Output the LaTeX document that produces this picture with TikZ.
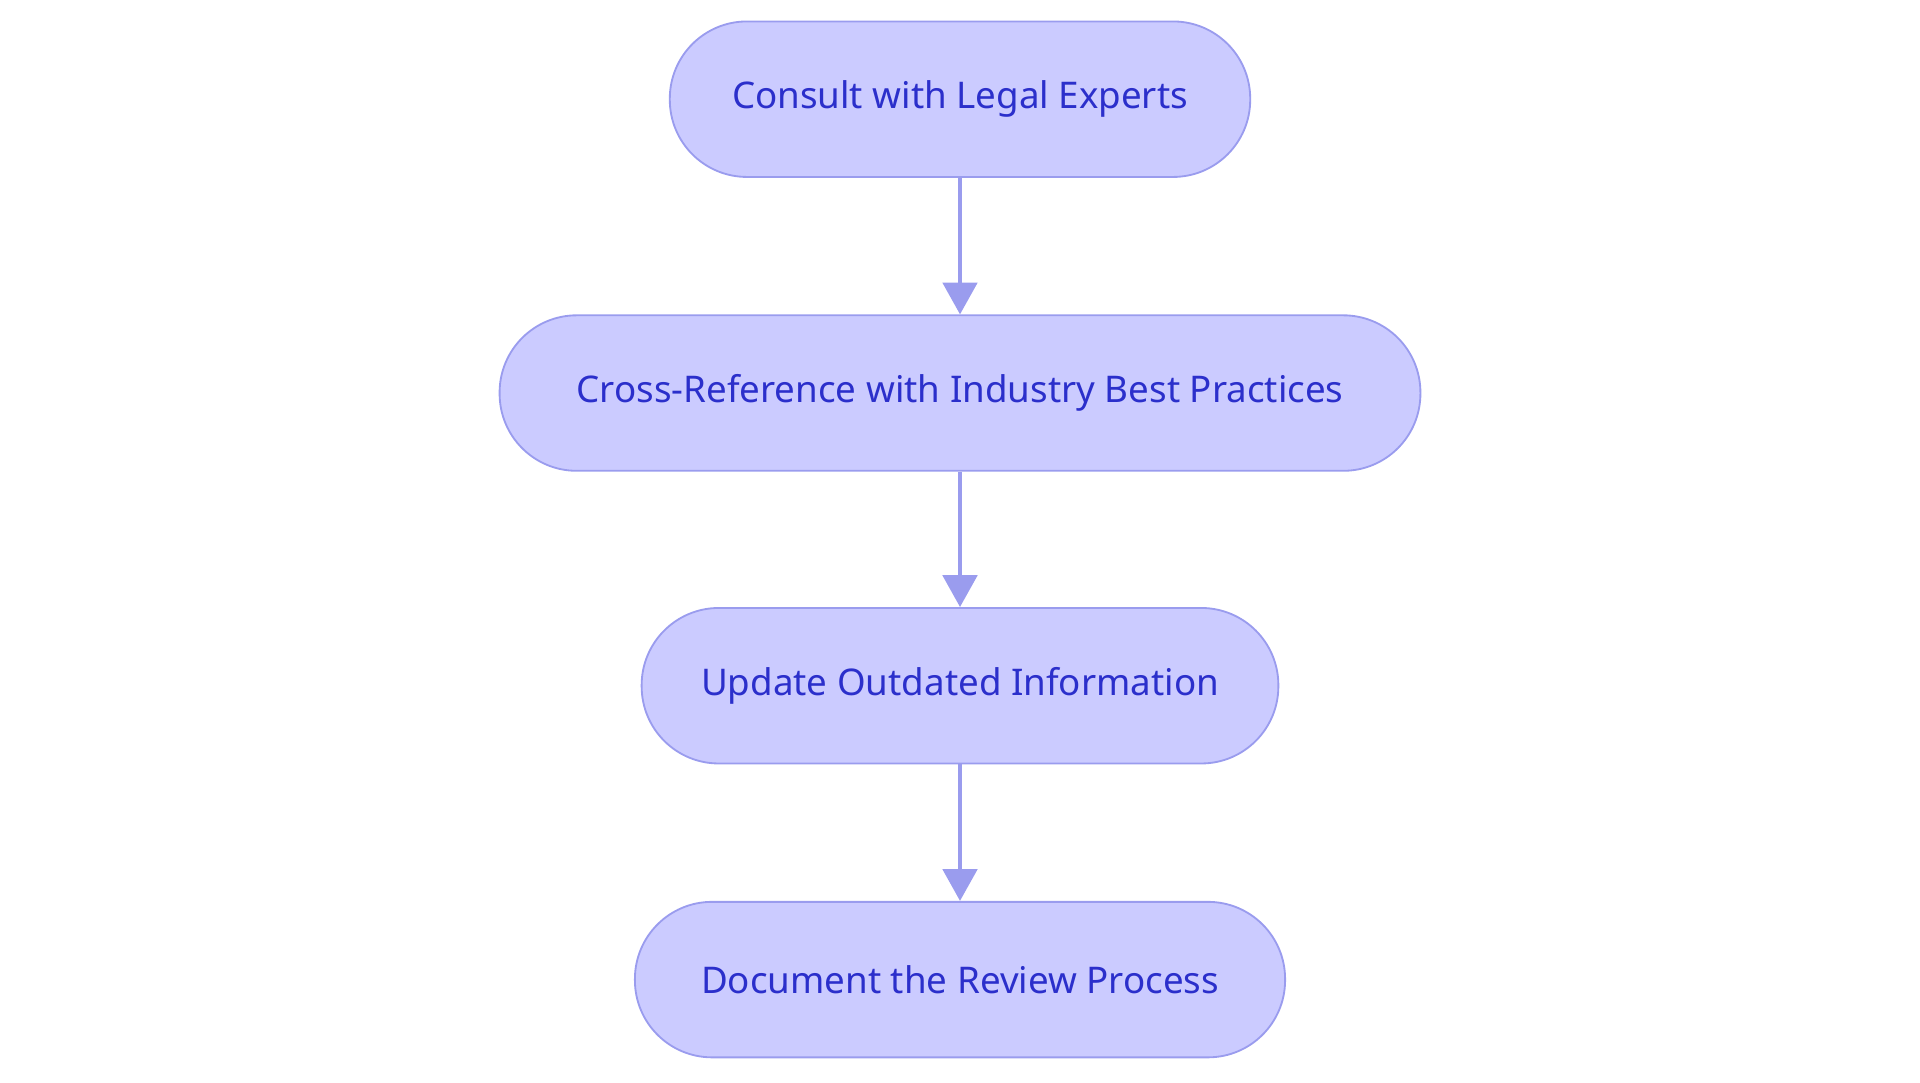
\documentclass[tikz,border=0pt]{standalone}
\usepackage{fontspec}
\setmainfont{Noto Sans}
\usetikzlibrary{arrows.meta}
\definecolor{nfill}{HTML}{CBCBFF}
\definecolor{nline}{HTML}{9A9CEE}
\definecolor{ntext}{HTML}{2B2FCB}
\begin{document}
\begin{tikzpicture}[x=1pt,y=-1pt,
  box/.style={draw=nline,line width=1.5pt,fill=nfill,rounded corners=63pt,minimum height=127pt,text=ntext,font=\fontsize{30}{36}\selectfont,inner sep=0pt},
  arr/.style={draw=nline,line width=3.5pt,-{Triangle[length=26pt,width=28pt]}}]
\useasboundingbox (0,0) rectangle (1568,884);
\node[box,minimum width=474pt] (a) at (784,81) {Consult with Legal Experts};
\node[box,minimum width=752pt] (b) at (784,321) {Cross-Reference with Industry Best Practices};
\node[box,minimum width=520pt] (c) at (784,560) {Update Outdated Information};
\node[box,minimum width=531pt] (d) at (784,800) {Document the Review Process};
\draw[arr] (a) -- (b);
\draw[arr] (b) -- (c);
\draw[arr] (c) -- (d);
\end{tikzpicture}
\end{document}
